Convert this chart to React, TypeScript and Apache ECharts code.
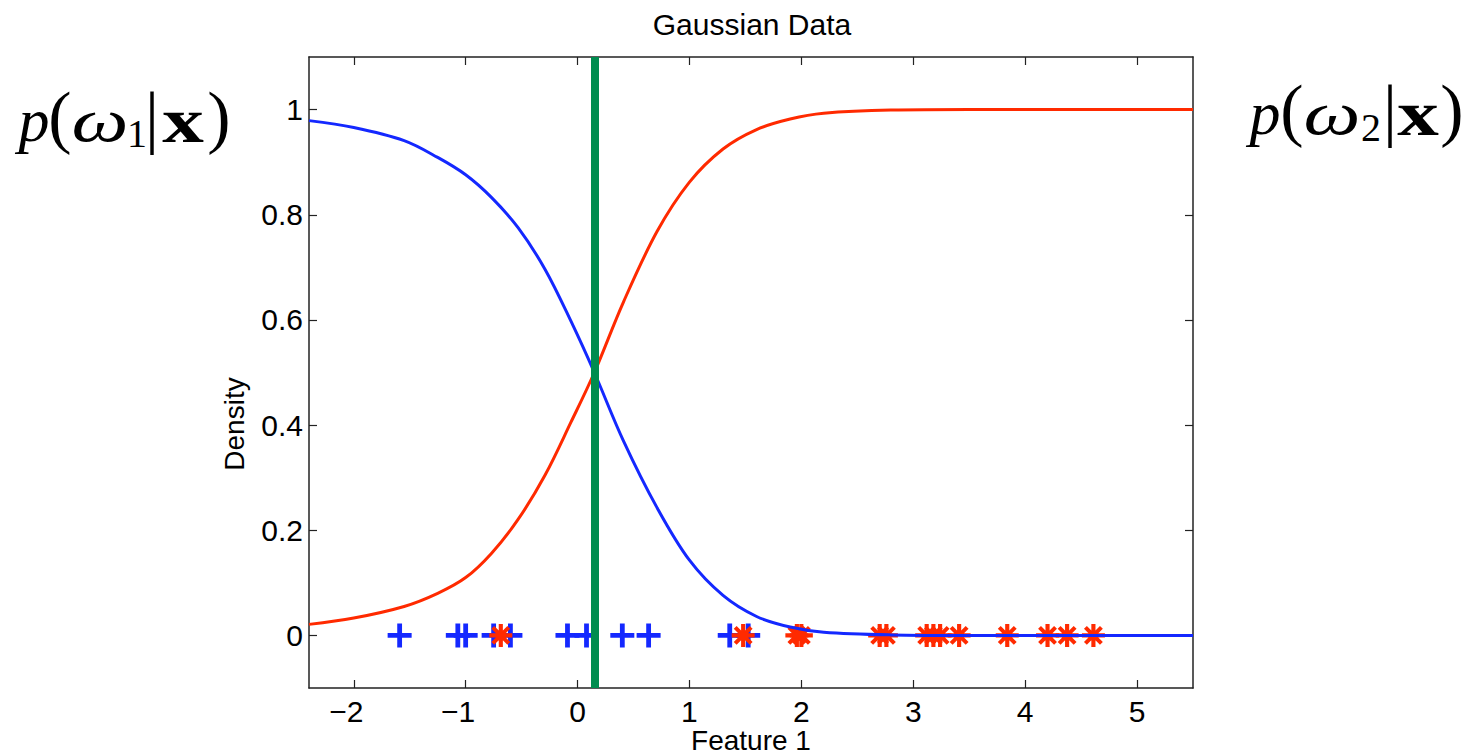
import React, { useEffect, useRef } from "react";
import * as echarts from "echarts";

// Posterior curves
const xGrid = [-2.4, -2.0, -1.55, -1.25, -1.0, -0.77, -0.53, -0.29, -0.06, 0.15, 0.41, 0.71, 1.0, 1.3, 1.6, 1.9, 2.2, 2.8, 3.5, 4.5, 5.5];
const pOmega1 = [0.979, 0.966, 0.941, 0.909, 0.876, 0.833, 0.775, 0.696, 0.598, 0.5, 0.37, 0.243, 0.143, 0.076, 0.036, 0.016, 0.006, 0.001, 0, 0, 0];
const pOmega2 = [0.021, 0.033, 0.055, 0.08, 0.11, 0.156, 0.221, 0.305, 0.405, 0.5, 0.634, 0.768, 0.862, 0.925, 0.962, 0.982, 0.993, 0.999, 1, 1, 1];

// Samples of each class (plotted at density 0)
const class1X = [-1.59, -1.07, -1.0, -0.75, -0.6, -0.09, 0.08, 0.4, 0.635, 1.36, 1.525];
const class2X = [-0.686, 1.48, 1.96, 2.0, 2.7, 2.76, 3.12, 3.18, 3.24, 3.41, 3.84, 4.2, 4.375, 4.61];

// Decision boundary
const boundaryX = 0.15;

const xTicks = [-2, -1, 0, 1, 2, 3, 4, 5];
const yTicks = [0, 0.2, 0.4, 0.6, 0.8, 1];

const PLUS = "path://M0,8 L8,8 L8,0 L12,0 L12,8 L20,8 L20,12 L12,12 L12,20 L8,20 L8,12 L0,12 Z";
const STAR =
  "path://M0,8.2 L20,8.2 L20,11.8 L0,11.8 Z M8.2,0 L11.8,0 L11.8,20 L8.2,20 Z M1.8,4.3 L4.3,1.8 L18.2,15.7 L15.7,18.2 Z M15.7,1.8 L18.2,4.3 L4.3,18.2 L1.8,15.7 Z";

const SANS = "'Liberation Sans', Arial, Helvetica, sans-serif";
const SERIF = "'Liberation Serif', 'DejaVu Serif', serif";

function glyph(text: string, x: number, y: number, size: number, opts: any = {}) {
  return {
    type: "text",
    x,
    y,
    scaleX: opts.sx || 1,
    style: {
      text,
      fontFamily: SERIF,
      fontSize: size,
      fontStyle: opts.italic ? "italic" : "normal",
      fontWeight: opts.bold ? "bold" : "normal",
      fill: "#000",
      align: "center",
      verticalAlign: "middle",
    },
  };
}

export default function App() {
  const ref = useRef<HTMLDivElement>(null);
  useEffect(() => {
    if (!ref.current) return;
    const chart = echarts.init(ref.current, null, { renderer: "svg" });
    const axisLine = { show: true, onZero: false, lineStyle: { color: "#222", width: 1.5 } };
    const tick = (vals: number[]) => ({ show: true, inside: true, length: 8, customValues: vals, lineStyle: { color: "#222", width: 1.2 } });
    const option: any = {
      animation: false,
      backgroundColor: "#fff",
      grid: { left: 309, right: 275, top: 57, bottom: 68, containLabel: false, outerBoundsMode: "none" },
      xAxis: [
        {
          type: "value",
          min: -2.4,
          max: 5.5,
          position: "bottom",
          axisLine,
          axisTick: tick(xTicks),
          axisLabel: {
            customValues: xTicks,
            formatter: (v: number) => (v < 0 ? "\u2212" + Math.abs(v) + "\u2002" : String(v)),
            fontFamily: SANS,
            fontSize: 30,
            color: "#000",
            margin: 8,
          },
          splitLine: { show: false },
        },
        {
          type: "value",
          min: -2.4,
          max: 5.5,
          position: "top",
          axisLine,
          axisTick: tick(xTicks),
          axisLabel: { show: false },
          splitLine: { show: false },
        },
      ],
      yAxis: [
        {
          type: "value",
          min: -0.1,
          max: 1.1,
          position: "left",
          axisLine,
          axisTick: tick(yTicks),
          axisLabel: { customValues: yTicks, fontFamily: SANS, fontSize: 30, color: "#000", margin: 6 },
          splitLine: { show: false },
        },
        {
          type: "value",
          min: -0.1,
          max: 1.1,
          position: "right",
          axisLine,
          axisTick: tick(yTicks),
          axisLabel: { show: false },
          splitLine: { show: false },
        },
      ],
      series: [
        {
          name: "class 1",
          type: "scatter",
          xAxisIndex: 0,
          yAxisIndex: 0,
          symbol: PLUS,
          symbolSize: 24,
          itemStyle: { color: "#1428ff", opacity: 1 },
          data: class1X.map((x) => [x, 0]),
          z: 2,
        },
        {
          name: "class 2",
          type: "scatter",
          xAxisIndex: 0,
          yAxisIndex: 0,
          symbol: STAR,
          symbolSize: 23,
          itemStyle: { color: "#ff2a00", opacity: 1 },
          data: class2X.map((x) => [x, 0]),
          z: 3,
        },
        {
          name: "p(w2|x)",
          type: "line",
          xAxisIndex: 0,
          yAxisIndex: 0,
          smooth: 0.35,
          showSymbol: false,
          lineStyle: { color: "#ff2a00", width: 3 },
          data: xGrid.map((x, i) => [x, pOmega2[i]]),
          z: 4,
        },
        {
          name: "p(w1|x)",
          type: "line",
          xAxisIndex: 0,
          yAxisIndex: 0,
          smooth: 0.35,
          showSymbol: false,
          lineStyle: { color: "#1428ff", width: 3 },
          data: xGrid.map((x, i) => [x, pOmega1[i]]),
          z: 5,
        },
        {
          name: "boundary",
          type: "line",
          xAxisIndex: 0,
          yAxisIndex: 0,
          data: [],
          z: 6,
          markLine: {
            silent: true,
            symbol: ["none", "none"],
            label: { show: false },
            lineStyle: { color: "#008c4f", width: 8, type: "solid" },
            data: [{ xAxis: boundaryX }],
            z: 6,
          },
        },
      ],
      graphic: [
        {
          type: "text",
          x: 752,
          y: 24,
          style: { text: "Gaussian Data", fontFamily: SANS, fontSize: 30, fill: "#000", align: "center", verticalAlign: "middle" },
        },
        {
          type: "text",
          x: 751,
          y: 740,
          style: { text: "Feature 1", fontFamily: SANS, fontSize: 28, fill: "#000", align: "center", verticalAlign: "middle" },
        },
        {
          type: "text",
          x: 234,
          y: 424,
          rotation: Math.PI / 2,
          style: { text: "Density", fontFamily: SANS, fontSize: 28, fill: "#000", align: "center", verticalAlign: "middle" },
        },
        // p(ω1|x)
        glyph("p", 34, 120, 62, { italic: true }),
        glyph("(", 60, 116, 70),
        glyph("ω", 100, 120, 62, { italic: true, sx: 1.3 }),
        glyph("1", 137, 133, 40),
        glyph("|", 152, 116, 70),
        glyph("x", 183, 120, 64, { bold: true, sx: 1.3 }),
        glyph(")", 219, 116, 70),
        // p(ω2|x)
        glyph("p", 1265, 113, 62, { italic: true }),
        glyph("(", 1292, 109, 70),
        glyph("ω", 1332, 113, 62, { italic: true, sx: 1.3 }),
        glyph("2", 1371, 127, 40),
        glyph("|", 1390, 109, 70),
        glyph("x", 1418, 113, 64, { bold: true, sx: 1.3 }),
        glyph(")", 1452, 109, 70),
      ],
    };
    chart.setOption(option);
    return () => chart.dispose();
  }, []);
  return <div ref={ref} style={{ position: "fixed", left: 0, top: 0, width: 1468, height: 756 }} />;
}
